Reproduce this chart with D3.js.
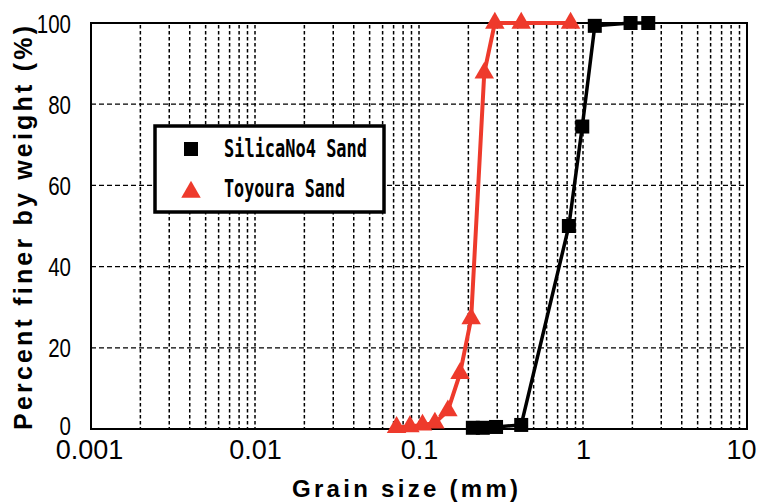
<!DOCTYPE html>
<html>
<head>
<meta charset="utf-8">
<script src="https://cdn.jsdelivr.net/npm/d3@7"></script>
<style>
  html, body { margin: 0; padding: 0; background: #fff; }
  svg { display: block; }
</style>
</head>
<body>
<svg id="chart" width="760" height="502"></svg>
<script>
// ---- data ----
const seriesNames = ["SilicaNo4 Sand", "Toyoura Sand"];
const silicaSize = [0.213, 0.245, 0.295, 0.42, 0.82, 0.99, 1.18, 1.95, 2.5];
const silicaFiner = [0.3, 0.3, 0.5, 1.0, 50, 74.5, 99.3, 100, 100];
const toyouraSize = [0.073, 0.088, 0.105, 0.125, 0.15, 0.178, 0.208, 0.25, 0.29, 0.42, 0.84];
const toyouraFiner = [0.4, 0.6, 1.0, 1.5, 4.5, 13.7, 27.2, 87.7, 100, 100, 100];
const xTickValues = [0.001, 0.01, 0.1, 1, 10];
const xTickLabels = ["0.001", "0.01", "0.1", "1", "10"];
const yTickValues = [0, 20, 40, 60, 80, 100];

// ---- layout ----
const svg = d3.select("#chart");
const L = 91, R = 747, T = 23, B = 429;
const x = d3.scaleLog().domain([0.001, 10]).range([L, R]);
const y = d3.scaleLinear().domain([0, 100]).range([B, T]);

// minor grid values (2..9 x each decade, plus majors inside)
const gridX = [];
for (let e = -3; e < 1; e++) {
  for (let m = 1; m <= 9; m++) {
    const v = m * Math.pow(10, e);
    if (v > 0.001 && v < 10) gridX.push(v);
  }
}

// vertical dashed grid
svg.append("g").selectAll("line").data(gridX).join("line")
  .attr("x1", d => x(d)).attr("x2", d => x(d))
  .attr("y1", T + 2).attr("y2", B)
  .attr("stroke", "#000").attr("stroke-width", 1.5)
  .attr("stroke-dasharray", "3.5,2.5");

// horizontal dashed grid
svg.append("g").selectAll("line").data(yTickValues.filter(v => v > 0 && v < 100)).join("line")
  .attr("x1", L).attr("x2", R)
  .attr("y1", d => y(d)).attr("y2", d => y(d))
  .attr("stroke", "#000").attr("stroke-width", 1.3)
  .attr("stroke-dasharray", "5,3");

// frame
svg.append("rect").attr("x", L).attr("y", T).attr("width", R - L).attr("height", B - T)
  .attr("fill", "none").attr("stroke", "#000").attr("stroke-width", 2);

// axes
const xAxis = d3.axisBottom(x).tickValues(xTickValues)
  .tickFormat((d, i) => xTickLabels[i]).tickSize(0).tickPadding(11);
const gx = svg.append("g").attr("transform", `translate(0,${B})`).call(xAxis);
gx.select(".domain").remove();
gx.selectAll("text").attr("font-family", "Liberation Sans, Arial, sans-serif")
  .attr("font-size", 27).attr("fill", "#000").attr("dy", "0.72em")
  .attr("dx", (d, i) => i === xTickValues.length - 1 ? -6 : (i === 0 ? -2 : 0));

const yAxis = d3.axisLeft(y).tickValues(yTickValues).tickSize(0).tickPadding(0);
const gy = svg.append("g").attr("transform", `translate(${L},0)`).call(yAxis);
gy.select(".domain").remove();
gy.selectAll("text").attr("font-family", "Liberation Sans, Arial, sans-serif")
  .attr("font-size", 25).attr("fill", "#000").attr("x", 0)
  .attr("dy", d => d === 0 ? "0.2em" : "0.36em")
  .attr("transform", "translate(-20,0) scale(0.82,1)");

// axis titles
svg.append("text").attr("x", 405).attr("y", 497).attr("text-anchor", "middle")
  .attr("font-family", "Liberation Sans, Arial, sans-serif").attr("font-weight", "bold")
  .attr("font-size", 24).attr("textLength", 226).attr("lengthAdjust", "spacing")
  .text("Grain size (mm)");
svg.append("text").attr("transform", "translate(32,228) rotate(-90)").attr("text-anchor", "middle")
  .attr("font-family", "Liberation Sans, Arial, sans-serif").attr("font-weight", "bold")
  .attr("font-size", 25).attr("textLength", 404).attr("lengthAdjust", "spacing")
  .text("Percent finer by weight (%)");

// series
const line = d3.line().x(d => x(d[0])).y(d => y(d[1]));
const silica = silicaSize.map((s, i) => [s, silicaFiner[i]]);
const toyoura = toyouraSize.map((s, i) => [s, toyouraFiner[i]]);
const red = "#ee3a2c";

svg.append("path").datum(silica).attr("d", line).attr("fill", "none")
  .attr("stroke", "#000").attr("stroke-width", 3.5);
svg.append("g").selectAll("rect").data(silica).join("rect")
  .attr("x", d => x(d[0]) - 7).attr("y", d => y(d[1]) - 7)
  .attr("width", 14).attr("height", 14).attr("fill", "#000");

svg.append("path").datum(toyoura).attr("d", line).attr("fill", "none")
  .attr("stroke", red).attr("stroke-width", 4);
const tri = d3.symbol().type(d3.symbolTriangle).size(165);
svg.append("g").selectAll("path").data(toyoura).join("path")
  .attr("d", tri).attr("transform", d => `translate(${x(d[0])},${y(d[1])})`)
  .attr("fill", red);

// legend
const lg = svg.append("g");
lg.append("rect").attr("x", 155).attr("y", 126).attr("width", 229).attr("height", 86)
  .attr("fill", "#fff").attr("stroke", "#000").attr("stroke-width", 3.5);
lg.append("rect").attr("x", 184).attr("y", 142).attr("width", 14).attr("height", 14).attr("fill", "#000");
lg.append("path").attr("d", tri).attr("transform", "translate(191,192)").attr("fill", red);
const legendLen = [143, 121];
seriesNames.forEach((n, i) => {
  lg.append("text").attr("x", 224).attr("y", 157 + i * 40)
    .attr("font-family", "DejaVu Sans Mono, monospace").attr("font-weight", "bold")
    .attr("font-size", 24).attr("textLength", legendLen[i]).attr("lengthAdjust", "spacingAndGlyphs")
    .text(n);
});
</script>
</body>
</html>
